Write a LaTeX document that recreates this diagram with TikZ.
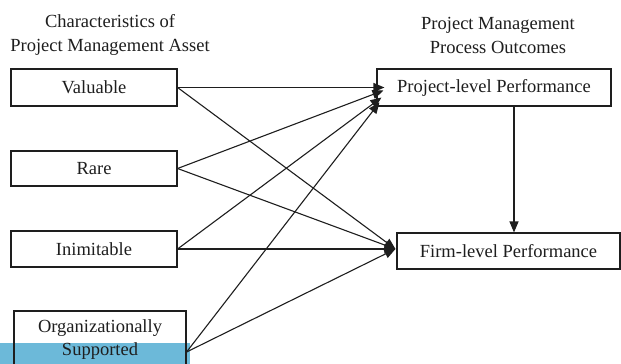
\documentclass[tikz,border=0pt]{standalone}
\usepackage{fontspec}
\setmainfont{Liberation Serif}
\usetikzlibrary{calc,arrows.meta}
\definecolor{stripcyan}{RGB}{108,185,217}
\definecolor{ink}{RGB}{30,30,30}
\begin{document}
\begin{tikzpicture}[x=1pt,y=-1pt,
  box/.style={draw=ink,text=ink,line width=1.1pt,inner sep=0pt,font=\fontsize{18.5pt}{23pt}\selectfont},
  title/.style={align=center,text=ink,inner sep=0pt,font=\fontsize{18.5pt}{24pt}\selectfont},
  arr/.style={draw=ink,line width=1.1pt,-{Triangle[length=11pt,width=9pt]}}]
\useasboundingbox (0,0) rectangle (621,364);
\fill[white] (0,0) rectangle (621,364);
\fill[stripcyan] (0,343) rectangle (190,364);
% titles
\node[title] (t1) at (110,35) {Characteristics of\\Project Management Asset};
\node[title] (t2) at (498,35) {Project Management\\Process Outcomes};
% left boxes
\node[box,minimum width=166pt,minimum height=37pt] (val) at (94,87.5) {Valuable};
\node[box,minimum width=166pt,minimum height=35pt] (rare) at (94,168.5) {Rare};
\node[box,minimum width=166pt,minimum height=36pt] (inim) at (94,249) {Inimitable};
\node[box,minimum width=172pt,minimum height=58pt,align=center] (org) at (100,340) {Organizationally\\Supported};
% right boxes
\node[box,minimum width=234pt,minimum height=37pt] (proj) at (494,87.5) {Project-level Performance};
\node[box,minimum width=223pt,minimum height=36pt] (firm) at (508.5,251) {Firm-level Performance};
% connector points
\coordinate (orgout) at ($(org.east)+(0,12)$);
\coordinate (p1) at ($(proj.west)+(8,0)$);
\coordinate (p2) at ($(proj.west)+(7,3)$);
\coordinate (p3) at ($(proj.west)+(5,10)$);
\coordinate (p4) at ($(proj.west)+(3,15)$);
\coordinate (f0) at ($(firm.west)+(-1,-2)$);
\coordinate (vx) at (514,0);
% connectors
\draw[arr] (val.east) -- (p1);
\draw[arr] (val.east) -- (f0);
\draw[arr] (rare.east) -- (p2);
\draw[arr] (rare.east) -- (f0);
\draw[arr] (inim.east) -- (p3);
\draw[arr] (inim.east) -- (f0);
\draw[arr] (orgout) -- (p4);
\draw[arr] (orgout) -- (f0);
\draw[arr] (proj.south -| vx) -- (vx |- firm.north);
\end{tikzpicture}
\end{document}
